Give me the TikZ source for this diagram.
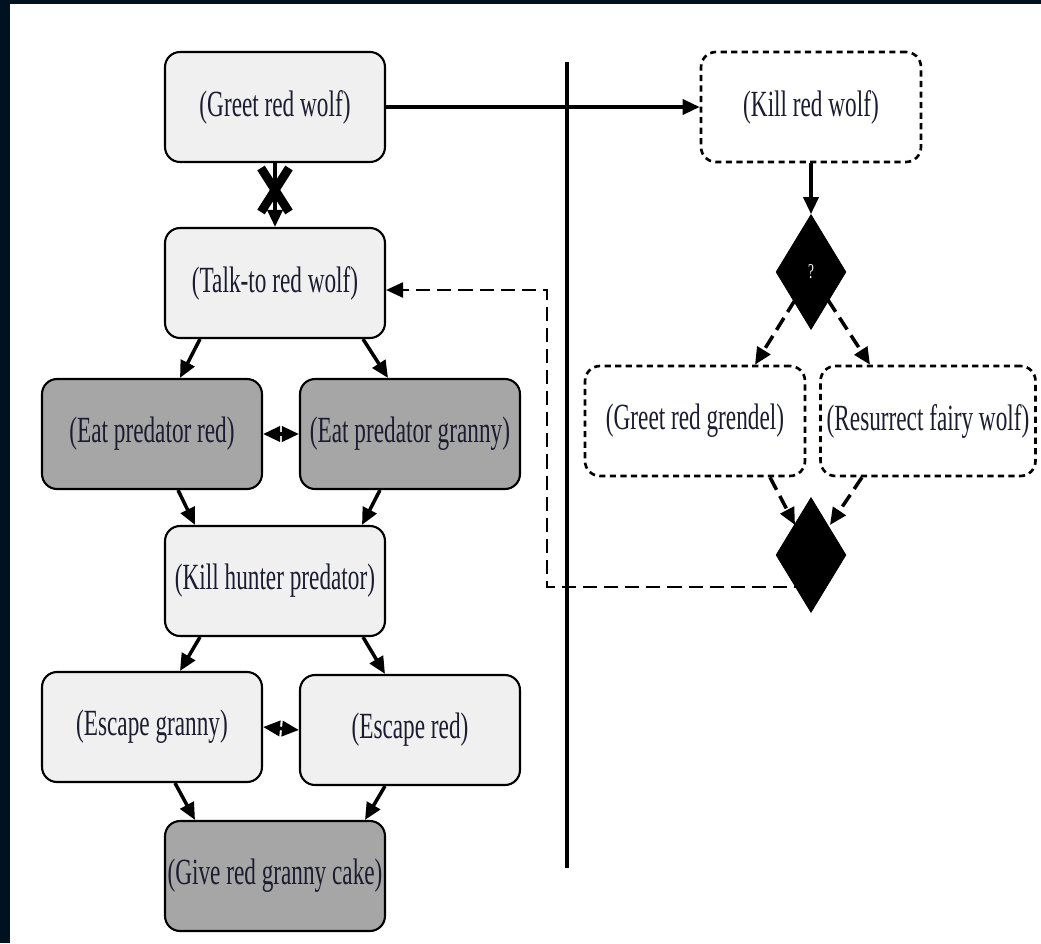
\documentclass[tikz,border=0pt]{standalone}
\usepackage{fontspec}
\setmainfont{Liberation Serif}[FakeStretch=0.63]
\usepackage{xcolor}
\usepackage{tikz}
\usetikzlibrary{shapes,shapes.geometric,arrows,arrows.meta,positioning,calc}

\definecolor{framenavy}{HTML}{00111F}
\definecolor{lightbox}{HTML}{F0F0F0}
\definecolor{darkbox}{HTML}{A6A6A6}
\definecolor{inktext}{HTML}{1C1C30}

\tikzset{
    actbox/.style={draw=black, line width=1.2pt, rounded corners=0.3cm, fill=lightbox,
        minimum width=4.4cm, minimum height=2.2cm, inner sep=0pt,
        text=inktext, font=\fontsize{21}{24}\selectfont},
    darkact/.style={actbox, fill=darkbox},
    dashact/.style={actbox, fill=white, line width=1.5pt, dash pattern=on 3.5pt off 2.5pt},
    choice/.style={diamond, draw=black, fill=black, inner sep=0pt, aspect=0.6,
        minimum width=1.4cm, minimum height=2.3cm},
    flow/.style={->, line width=2pt},
    dflow/.style={->, line width=2pt, dash pattern=on 8pt off 4pt},
    >={Triangle[length=3.4mm,width=3mm]}
}

\begin{document}
\begin{tikzpicture}[x=0.02cm, y=-0.02cm]
            % frame and page
            \fill[framenavy] (0,0) rectangle (1041,943);
            \fill[white] (10,4) rectangle (1041,943);
            \useasboundingbox (0,0) rectangle (1041,943);

            % left story line
            \node[actbox] (greet) at (275,107) {(Greet red wolf)};
            \node[actbox] (talkto) at (275,283) {(Talk-to red wolf)};
            \node[darkact] (eatred) at (152,434) {(Eat predator red)};
            \node[darkact] (eatgranny) at (410,434) {(Eat predator granny)};
            \node[actbox] (killhunter) at (275,581) {(Kill hunter predator)};
            \node[actbox] (escgranny) at (152,727) {(Escape granny)};
            \node[actbox] (escred) at (410,730) {(Escape red)};
            \node[darkact] (givecake) at (275,876) {(Give red granny cake)};

            % right story line
            \node[dashact] (killwolf) at (811,107) {(Kill red wolf)};
            \node[choice] (pick) at (811,272) {\textcolor{white}{\fontsize{12}{14}\selectfont ?}};
            \node[dashact] (grendel) at (695,421) {(Greet red grendel)};
            \node[dashact, minimum width=4.3cm] (fairy) at (928,421) {(Resurrect fairy wolf)};
            \node[choice] (merge) at (811,555) {};

            % divider
            \draw[line width=2.6pt] (567,62) -- (567,868);

            % greet to kill, greet to talk (crossed out)
            \draw[flow] (greet.east) -- (killwolf.west);
            \draw[flow] (greet.south) -- (talkto.north);
            \draw[line width=5pt] (261,168) -- (289,212);
            \draw[line width=5pt] (289,168) -- (261,212);

            % talk-to branches
            \draw[flow] ($(talkto.south)+(-75,0)$) -- ($(eatred.north)+(28,0)$);
            \draw[flow] ($(talkto.south)+(88,0)$) -- ($(eatgranny.north)+(-22,0)$);
            \draw[<->, line width=2pt] (eatred.east) -- (eatgranny.west);
            \draw[flow] ($(eatred.south)+(26,0)$) -- ($(killhunter.north)+(-80,0)$);
            \draw[flow] ($(eatgranny.south)+(-30,0)$) -- ($(killhunter.north)+(87,0)$);

            % escape branches
            \draw[flow] ($(killhunter.south)+(-75,0)$) -- ($(escgranny.north)+(28,0)$);
            \draw[flow] ($(killhunter.south)+(88,0)$) -- ($(escred.north)+(-25,0)$);
            \draw[<->, line width=2pt] (escgranny.east) -- (escred.west);
            \draw[flow] ($(escgranny.south)+(23,0)$) -- ($(givecake.north)+(-80,0)$);
            \draw[flow] ($(escred.south)+(-25,0)$) -- ($(givecake.north)+(90,0)$);

            % kill red wolf and its choice
            \draw[flow] (killwolf.south) -- (pick.north);
            \draw[dflow] ($(pick.center)+(-16,28)$) -- ($(grendel.north)+(60,0)$);
            \draw[dflow] ($(pick.center)+(17,28)$) -- ($(fairy.north)+(-58,0)$);
            \draw[dflow] ($(grendel.south)+(75,0)$) -- ($(merge.center)+(-16,-30)$);
            \draw[dflow] ($(fairy.south)+(-66,0)$) -- ($(merge.center)+(19,-30)$);

            % loop back to talk-to
            \coordinate (backlow) at (547,587);
            \coordinate (backup) at (547,290);
            \draw[->, line width=1.4pt, dash pattern=on 8pt off 4pt]
                ($(merge.center)+(-3,32)$) -- (backlow) -- (backup) -- (talkto.east |- backup);
        \end{tikzpicture}
\end{document}
